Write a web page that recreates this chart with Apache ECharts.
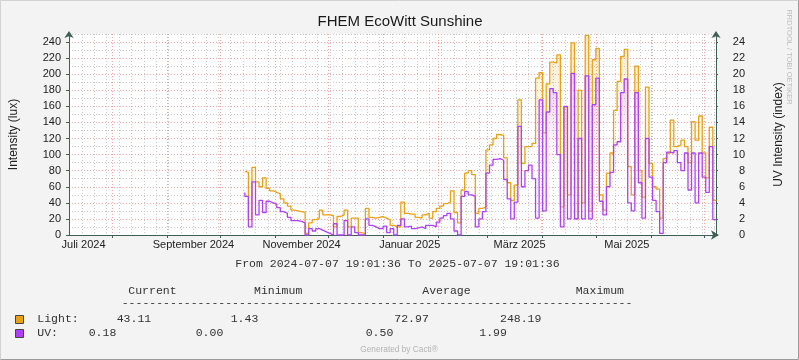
<!DOCTYPE html>
<html>
<head>
<meta charset="utf-8">
<script src="https://cdn.jsdelivr.net/npm/echarts@6/dist/echarts.min.js"></script>
<style>html,body{margin:0;padding:0;background:#f3f3f3;}#c{width:799px;height:360px;}</style>
</head>
<body>
<div id="c"></div>
<script>
// ---- data (2-day steps starting 2024-10-15) ----
const seriesStart = '2024-10-15';
const stepDays = 2;
const lightValues = [79,78,19,84,66,60,71,58,55,53,
 51,45,40,36,31,30,29,28,2,15,
 19,21,31,25,25,24,10,23,25,31,
 10,21,21,3,1.43,33,22,21,22,23,
 21,19,12,10,10,41,27,26,26,22,
 21,25,27,21,29,33,36,39,41,55,
 28,15,56,77,80,75,27,33,35,106,
 112,120,125,124,96,65,43,62,168,89,
 110,110,114,195,202,127,188,215,214,224,
 35,159,50,239,20,180,40,248.19,30,218,
 232,50,31,77,102,155,191,222,231,85,
 50,210,80,47,184,89,60,57,21,95,
 102,143,110,112,118,110,90,141,118,148,
 102,71,134,43.11];
const uvValues = [5.3,4.8,1.0,6.6,2.5,4.3,2.8,4.2,4.0,3.8,
 3.4,2.9,2.7,2.2,1.8,1.8,1.7,1.5,0,0.8,
 0.5,0.8,0.6,0.4,0.2,0,1.4,0,0,1.8,
 0,1.0,0.3,0,0,2.0,1.2,1.0,0.8,0.8,
 1.1,0.3,0.8,0,1.2,2.0,1.0,1.1,0.8,0.9,
 1.0,0.8,1.2,1.2,1.0,1.6,2.1,2.4,2.7,2.0,
 0.5,0,4.8,5.4,5.0,4.8,1.0,2.0,2.9,7.7,
 8.7,9.4,9.5,9.3,6.9,4.5,2.0,4.1,13.5,6.0,
 8.0,8.7,7.0,2.1,16.8,3.0,15.3,18.2,17.7,10.0,
 1.0,16.0,2.0,20.1,2.0,12.0,2.0,19.8,2.0,16.2,
 19.5,4.2,2.5,6.0,7.8,11.2,11.6,17.7,19.4,4.0,
 3.0,17.7,6.5,2.1,12.0,7.2,4.3,2.9,0.2,9.0,
 10.3,10.2,10.5,9.0,8.0,10.2,5.6,10.2,4.0,10.2,
 7.2,5.3,11.0,1.9];

// ---- axis / tick labels ----
const rangeStart = '2024-07-07T19:01:36';
const rangeEnd = '2025-07-07T19:01:36';
const xLabels = ['Juli 2024','September 2024','November 2024','Januar 2025','März 2025','Mai 2025'];
const xLabelDates = ['2024-07-16T00:00','2024-09-16T00:00','2024-11-16T00:00','2025-01-16T00:00','2025-03-19T00:00','2025-05-18T12:00'];
const monthStarts = ['2024-08-01','2024-09-01','2024-10-01','2024-11-01','2024-12-01','2025-01-01','2025-02-01','2025-03-01','2025-04-01','2025-05-01','2025-06-01','2025-07-01'];
const firstMonday = '2024-07-08';
const leftAxis = {min:0, max:250, major:20, minor:10};
const rightAxis = {min:0, max:25, major:2};

const titleText = 'FHEM EcoWitt Sunshine';
const rangeText = 'From 2024-07-07 19:01:36 To 2025-07-07 19:01:36';
const legendHeader = ['Current','Minimum','Average','Maximum'];
const lightStats = ['43.11','1.43','72.97','248.19'];
const uvStats = ['0.18','0.00','0.50','1.99'];

// ---- helpers ----
const DAY = 86400000;
function ts(s){ // treat as UTC
  const p = s.split(/[-T:]/).map(Number);
  return Date.UTC(p[0], p[1]-1, p[2], p[3]||0, p[4]||0, p[5]||0);
}
const tMin = ts(rangeStart), tMax = ts(rangeEnd);
const t0 = ts(seriesStart);
const lightData = lightValues.map((v,i)=>[t0 + i*stepDays*DAY, v]);
const uvData = uvValues.map((v,i)=>[t0 + i*stepDays*DAY, v]);
const labelTicks = xLabelDates.map(ts);
const labelMap = {};
labelTicks.forEach((t,i)=>{labelMap[t]=xLabels[i];});
const monthTicks = monthStarts.map(ts);
const weekTicks = [];
for (let t = ts(firstMonday); t <= tMax; t += 7*DAY) weekTicks.push(t);

const ORANGE = '#E9A013', PURPLE = '#B040F5';
const AX = '#3f5f55';
const SANS = "'Liberation Sans', Arial, sans-serif";
const MONO = "'Liberation Mono', 'Courier New', monospace";
const TXT = '#222';
const MINOR = '#c9c9c9', MAJOR = '#efa3a3';

function grad(r,g,b,a){
  return new echarts.graphic.LinearGradient(0,0,0,1,[
    {offset:0, color:`rgba(${r},${g},${b},${a})`},
    {offset:0.35, color:`rgba(${r},${g},${b},${a*0.3})`},
    {offset:0.65, color:`rgba(${r},${g},${b},0)`}
  ]);
}

function monoText(text, x, y){
  return {type:'text', style:{text, x, y, font:`11.5px ${MONO}`, fill:'#333', align:'left', verticalAlign:'middle'}};
}

const chart = echarts.init(document.getElementById('c'), null, {renderer:'canvas'});
const graphics = [
  {type:'polyline', shape:{points:[[0.5,359.5],[0.5,0.5],[798.5,0.5]]}, style:{stroke:'#d2d2d2', lineWidth:1, fill:null}},
  {type:'polyline', shape:{points:[[0.5,359.5],[798.5,359.5],[798.5,0.5]]}, style:{stroke:'#9a9a9a', lineWidth:1, fill:null}},
  {type:'text', style:{text:titleText, x:400, y:22, font:`15px ${SANS}`, fill:'#1a1a1a', align:'center', verticalAlign:'middle'}},
  {type:'text', rotation:-Math.PI/2, x:789, y:57, style:{text:'RRDTOOL / TOBI OETIKER', x:0, y:0, font:`7.5px ${SANS}`, fill:'#bdbdbd', align:'center', verticalAlign:'middle'}},
  monoText(rangeText, 235.3, 263.5),
  monoText(legendHeader[0], 128.3, 290.7),
  monoText(legendHeader[1], 254, 290.7),
  monoText(legendHeader[2], 422.3, 290.7),
  monoText(legendHeader[3], 575.7, 290.7),
  monoText('-'.repeat(74), 121.7, 302.5),
  {type:'rect', shape:{x:15.5, y:315.5, width:8, height:8}, style:{fill:ORANGE, stroke:'#444', lineWidth:1}},
  {type:'rect', shape:{x:15.5, y:329.5, width:8, height:8}, style:{fill:PURPLE, stroke:'#444', lineWidth:1}},
  monoText('Light:', 37.3, 319),
  monoText(lightStats[0], 116.7, 319),
  monoText(lightStats[1], 230.7, 319),
  monoText(lightStats[2], 394.3, 319),
  monoText(lightStats[3], 500, 319),
  monoText('UV:', 37.3, 332.7),
  monoText(uvStats[0], 88.7, 332.7),
  monoText(uvStats[1], 195.7, 332.7),
  monoText(uvStats[2], 365.7, 332.7),
  monoText(uvStats[3], 479.3, 332.7),
  {type:'text', style:{text:'Generated by Cacti®', x:399, y:349.5, font:`8.3px ${SANS}`, fill:'#b3b3b3', align:'center', verticalAlign:'middle'}}
];

chart.setOption({
  backgroundColor:'#f3f3f3',
  animation:false,
  grid:{left:67, right:83, top:34, bottom:125, show:true, backgroundColor:'#ffffff', borderWidth:0},
  xAxis:[
    {type:'value', min:tMin, max:tMax, position:'bottom',
     axisLine:{show:false}, axisTick:{show:false, customValues:weekTicks}, axisLabel:{show:false},
     splitLine:{show:true, lineStyle:{color:MINOR, type:[1,2], width:1}}},
    {type:'value', min:tMin, max:tMax, position:'bottom',
     axisLine:{show:true, lineStyle:{color:AX, width:1}, symbol:['none','arrow'], symbolSize:[7,8], symbolOffset:[0,3]},
     axisTick:{show:true, customValues:monthTicks, length:3, lineStyle:{color:AX}},
     axisLabel:{show:true, customValues:labelTicks, formatter:(v)=>labelMap[v]||'', margin:4, fontSize:11, fontFamily:SANS, color:TXT, hideOverlap:false},
     splitLine:{show:true, lineStyle:{color:MAJOR, type:[1,2], width:1}}}
  ],
  yAxis:[
    {type:'value', min:leftAxis.min, max:leftAxis.max, interval:leftAxis.minor, position:'left',
     axisLine:{show:false}, axisTick:{show:false}, axisLabel:{show:false},
     splitLine:{show:true, lineStyle:{color:['rgba(0,0,0,0)', MINOR], type:[1,2], width:1}}},
    {type:'value', min:leftAxis.min, max:leftAxis.max, interval:leftAxis.major, position:'left',
     name:'Intensity (lux)', nameLocation:'middle', nameGap:49, nameTextStyle:{fontSize:12, fontFamily:SANS, color:TXT},
     axisLine:{show:true, lineStyle:{color:AX, width:1}, symbol:['none','arrow'], symbolSize:[7,7], symbolOffset:[0,3]},
     axisTick:{show:true, length:3, lineStyle:{color:AX}},
     axisLabel:{margin:8, fontSize:11, fontFamily:SANS, color:TXT, showMaxLabel:false},
     splitLine:{show:true, showMaxLine:false, lineStyle:{color:MAJOR, type:[1,2], width:1}}},
    {type:'value', min:rightAxis.min, max:rightAxis.max, interval:rightAxis.major, position:'right',
     name:'UV Intensity (index)', nameLocation:'middle', nameGap:57, nameTextStyle:{fontSize:12, fontFamily:SANS, color:TXT},
     axisLine:{show:true, lineStyle:{color:AX, width:1}, symbol:['none','arrow'], symbolSize:[7,7], symbolOffset:[0,3]},
     axisTick:{show:true, length:2, lineStyle:{color:AX}},
     axisLabel:{margin:29, align:'right', fontSize:11, fontFamily:SANS, color:TXT, showMaxLabel:false},
     splitLine:{show:false}}
  ],
  series:[
    {name:'Light', type:'line', xAxisIndex:1, yAxisIndex:1, data:lightData, step:'start', symbol:'none',
     lineStyle:{color:ORANGE, width:1.3}, itemStyle:{color:ORANGE}, areaStyle:{color:grad(233,160,19,0.35)}, clip:true},
    {name:'UV', type:'line', xAxisIndex:1, yAxisIndex:2, data:uvData, step:'start', symbol:'none',
     lineStyle:{color:PURPLE, width:1.3}, itemStyle:{color:PURPLE}, areaStyle:{color:grad(176,64,245,0.3)}, clip:true}
  ],
  graphic:graphics
});
</script>
</body>
</html>
